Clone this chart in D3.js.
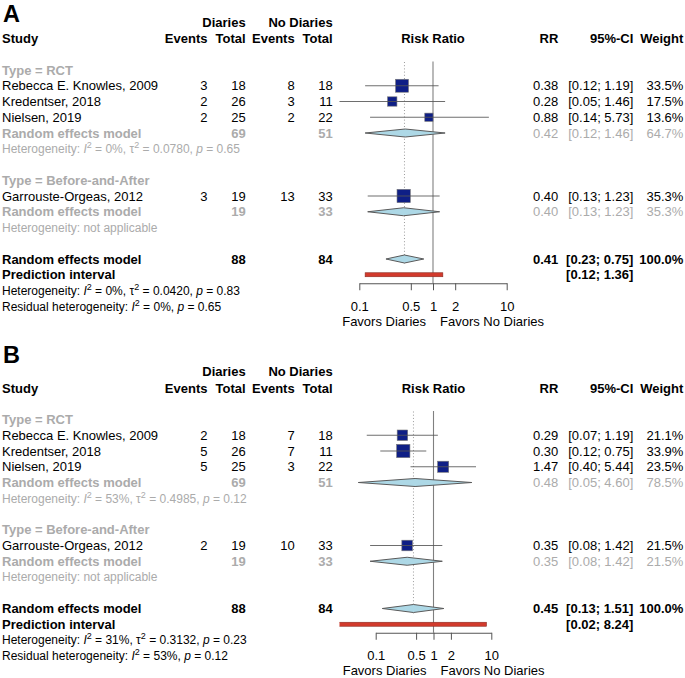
<!DOCTYPE html>
<html><head><meta charset="utf-8">
<script src="https://cdn.jsdelivr.net/npm/d3@7"></script>
<style>body{margin:0;background:#fff} svg{display:block} text{font-family:"Liberation Sans",Arial,Helvetica,sans-serif}</style>
</head><body><svg id="c" width="685" height="678"></svg>
<script>
// ---------- data ----------
const panelLetters = ["A", "B"];
const studyNames = ["Rebecca E. Knowles, 2009", "Kredentser, 2018", "Nielsen, 2019", "Garrouste-Orgeas, 2012"];
const studyGroup = [0, 0, 0, 1];
const groupLabels = ["Type = RCT", "Type = Before-and-After"];
const tickValues = [0.1, 0.5, 1, 2, 10];
const tickLabels = ["0.1", "0.5", "1", "2", "10"];

// Panel A
const eventsDiariesA = [3, 2, 2, 3];
const totalDiariesA = [18, 26, 25, 19];
const eventsNoDiariesA = [8, 3, 2, 13];
const totalNoDiariesA = [18, 11, 22, 33];
const rrA = [0.38, 0.28, 0.88, 0.40];
const lowerA = [0.12, 0.05, 0.14, 0.13];
const upperA = [1.19, 1.46, 5.73, 1.23];
const weightA = [33.5, 17.5, 13.6, 35.3];
const groupTotalDiariesA = [69, 19];
const groupTotalNoDiariesA = [51, 33];
const groupRRA = [0.42, 0.40];
const groupLowerA = [0.12, 0.13];
const groupUpperA = [1.46, 1.23];
const groupWeightA = [64.7, 35.3];
const groupHetA = [["0%", "0.0780", "0.65"], null];
const overallTotalsA = [88, 84];
const overallA = [0.41, 0.23, 0.75];
const predictionA = [0.12, 1.36];
const hetA = ["0%", "0.0420", "0.83"];
const residualHetA = ["0%", "0.65"];

// Panel B
const eventsDiariesB = [2, 5, 5, 2];
const totalDiariesB = [18, 26, 25, 19];
const eventsNoDiariesB = [7, 7, 3, 10];
const totalNoDiariesB = [18, 11, 22, 33];
const rrB = [0.29, 0.30, 1.47, 0.35];
const lowerB = [0.07, 0.12, 0.40, 0.08];
const upperB = [1.19, 0.75, 5.44, 1.42];
const weightB = [21.1, 33.9, 23.5, 21.5];
const groupTotalDiariesB = [69, 19];
const groupTotalNoDiariesB = [51, 33];
const groupRRB = [0.48, 0.35];
const groupLowerB = [0.05, 0.08];
const groupUpperB = [4.60, 1.42];
const groupWeightB = [78.5, 21.5];
const groupHetB = [["53%", "0.4985", "0.12"], null];
const overallTotalsB = [88, 84];
const overallB = [0.45, 0.13, 1.51];
const predictionB = [0.02, 8.24];
const hetB = ["31%", "0.3132", "0.23"];
const residualHetB = ["53%", "0.12"];

const panelData = [
  {ed: eventsDiariesA, td: totalDiariesA, en: eventsNoDiariesA, tn: totalNoDiariesA, rr: rrA, lo: lowerA, hi: upperA, w: weightA,
   gtd: groupTotalDiariesA, gtn: groupTotalNoDiariesA, grr: groupRRA, glo: groupLowerA, ghi: groupUpperA, gw: groupWeightA, ghet: groupHetA,
   ot: overallTotalsA, ov: overallA, pred: predictionA, het: hetA, res: residualHetA},
  {ed: eventsDiariesB, td: totalDiariesB, en: eventsNoDiariesB, tn: totalNoDiariesB, rr: rrB, lo: lowerB, hi: upperB, w: weightB,
   gtd: groupTotalDiariesB, gtn: groupTotalNoDiariesB, grr: groupRRB, glo: groupLowerB, ghi: groupUpperB, gw: groupWeightB, ghet: groupHetB,
   ot: overallTotalsB, ov: overallB, pred: predictionB, het: hetB, res: residualHetB}
];

// ---------- layout ----------
const W = 685, H = 678;
const panelTop = [0, 349.5];
const letterY = [21.5, 363];
const axisRange = [[359.3, 506.7], [375.7, 491.3]];
const clipX = [339.5, 560];
const FS = 13, FSH = 12;
const GRAY = "#ababab";
const col = {study: 2, ed: 207.5, td: 245.7, en: 294.7, tn: 332.7, rr: 558.3, ci: 633.3, w: 683.3};
const rowY = i => 70 + 15.75 * i;
const groupStartRow = [0, 7];

const svg = d3.select("#c");
svg.append("rect").attr("width", W).attr("height", H).attr("fill", "#fff");

function txt(g, x, y, s, o = {}) {
  return g.append("text").attr("x", x).attr("y", y).attr("dy", "0.36em")
    .attr("text-anchor", o.anchor || "start")
    .attr("font-weight", o.bold ? "bold" : "normal")
    .attr("font-size", o.size || FS)
    .attr("fill", o.fill || "#000").text(s);
}
function hetText(g, x, y, parts, fill) {
  const t = g.append("text").attr("x", x).attr("y", y).attr("dy", "0.36em")
    .attr("font-size", FSH).attr("fill", fill);
  let up = false;
  parts.forEach(p => {
    const [s, st] = p;
    const ts = t.append("tspan").text(s);
    if (st === "i") ts.attr("font-style", "italic");
    if (st === "s") { ts.attr("font-size", 9).attr("dy", -5); up = true; }
    else if (up) { ts.attr("dy", 5); up = false; }
  });
}
function hetParts(I2, tau2, p) {
  return [["Heterogeneity: "], ["I", "i"], ["2", "s"], [" = " + I2 + ", τ"], ["2", "s"], [" = " + tau2 + ", "], ["p", "i"], [" = " + p]];
}
const f2 = v => v.toFixed(2);
const ciStr = (l, h) => "[" + f2(l) + "; " + f2(h) + "]";
const wStr = v => v.toFixed(1) + "%";

svg.append("defs").append("clipPath").attr("id", "plotclip")
  .append("rect").attr("x", clipX[0]).attr("y", 0).attr("width", clipX[1] - clipX[0]).attr("height", H);

panelLetters.forEach((L, pi) => {
  const D = panelData[pi];
  const g = svg.append("g").attr("transform", `translate(0,${panelTop[pi]})`);
  svg.append("text").attr("x", 3).attr("y", letterY[pi]).attr("font-size", 23.5).attr("font-weight", "bold").text(L);

  const x = d3.scaleLog().domain([0.1, 10]).range(axisRange[pi]);
  const maxW = d3.max(D.w);
  const sq = d3.scaleSqrt().domain([0, maxW]).range([0, 13.3]);

  // headers
  txt(g, col.td, 22, "Diaries", {anchor: "end", bold: true});
  txt(g, col.tn, 22, "No Diaries", {anchor: "end", bold: true});
  txt(g, col.study, 38.5, "Study", {bold: true});
  txt(g, col.ed, 38.5, "Events", {anchor: "end", bold: true});
  txt(g, col.td, 38.5, "Total", {anchor: "end", bold: true});
  txt(g, col.en, 38.5, "Events", {anchor: "end", bold: true});
  txt(g, col.tn, 38.5, "Total", {anchor: "end", bold: true});
  txt(g, x(1), 38.5, "Risk Ratio", {anchor: "middle", bold: true});
  txt(g, col.rr, 38.5, "RR", {anchor: "end", bold: true});
  txt(g, col.ci, 38.5, "95%-CI", {anchor: "end", bold: true});
  txt(g, col.w, 38.5, "Weight", {anchor: "end", bold: true});

  const plot = g.append("g").attr("clip-path", "url(#plotclip)");
  const overallRow = 12, predRow = 13;
  const axisY = rowY(predRow) + 8.5;

  // reference lines
  plot.append("line").attr("x1", x(1)).attr("x2", x(1)).attr("y1", 61.5).attr("y2", axisY)
    .attr("stroke", "#808080").attr("stroke-width", 1.1);
  plot.append("line").attr("x1", x(D.ov[0])).attr("x2", x(D.ov[0])).attr("y1", 62).attr("y2", rowY(overallRow) + 5)
    .attr("stroke", "#9a9a9a").attr("stroke-width", 1).attr("stroke-dasharray", "1,2.2");

  const diamond = (cy, r, l, h) => {
    plot.append("path")
      .attr("d", `M${x(l)},${cy} L${x(r)},${cy - 4} L${x(h)},${cy} L${x(r)},${cy + 4} Z`)
      .attr("fill", "#add8e6").attr("stroke", "#5a5a5a").attr("stroke-width", 1);
  };

  // groups
  groupLabels.forEach((gl, gi) => {
    const r0 = groupStartRow[gi];
    txt(g, col.study, rowY(r0), gl, {bold: true, fill: GRAY});
    const idx = studyNames.map((s, i) => i).filter(i => studyGroup[i] === gi);
    idx.forEach((si, k) => {
      const y = rowY(r0 + 1 + k);
      txt(g, col.study, y, studyNames[si]);
      txt(g, col.ed, y, D.ed[si], {anchor: "end"});
      txt(g, col.td, y, D.td[si], {anchor: "end"});
      txt(g, col.en, y, D.en[si], {anchor: "end"});
      txt(g, col.tn, y, D.tn[si], {anchor: "end"});
      txt(g, col.rr, y, f2(D.rr[si]), {anchor: "end"});
      txt(g, col.ci, y, ciStr(D.lo[si], D.hi[si]), {anchor: "end"});
      txt(g, col.w, y, wStr(D.w[si]), {anchor: "end"});
      const s = sq(D.w[si]);
      plot.append("rect").attr("x", x(D.rr[si]) - s / 2).attr("y", y - s / 2).attr("width", s).attr("height", s)
        .attr("fill", "#0f1f86").attr("stroke", "#777").attr("stroke-width", 0.6);
      plot.append("line").attr("x1", x(D.lo[si])).attr("x2", x(D.hi[si])).attr("y1", y).attr("y2", y)
        .attr("stroke", "#555").attr("stroke-opacity", 0.85).attr("stroke-width", 1.1);
    });
    const ry = rowY(r0 + 1 + idx.length);
    txt(g, col.study, ry, "Random effects model", {bold: true, fill: GRAY});
    txt(g, col.td, ry, D.gtd[gi], {anchor: "end", bold: true, fill: GRAY});
    txt(g, col.tn, ry, D.gtn[gi], {anchor: "end", bold: true, fill: GRAY});
    txt(g, col.rr, ry, f2(D.grr[gi]), {anchor: "end", fill: GRAY});
    txt(g, col.ci, ry, ciStr(D.glo[gi], D.ghi[gi]), {anchor: "end", fill: GRAY});
    txt(g, col.w, ry, wStr(D.gw[gi]), {anchor: "end", fill: GRAY});
    diamond(ry, D.grr[gi], D.glo[gi], D.ghi[gi]);
    const hy = rowY(r0 + 2 + idx.length);
    if (D.ghet[gi]) hetText(g, col.study, hy, hetParts(...D.ghet[gi]), GRAY);
    else hetText(g, col.study, hy, [["Heterogeneity: not applicable"]], GRAY);
  });

  // overall
  const oy = rowY(overallRow);
  txt(g, col.study, oy, "Random effects model", {bold: true});
  txt(g, col.td, oy, D.ot[0], {anchor: "end", bold: true});
  txt(g, col.tn, oy, D.ot[1], {anchor: "end", bold: true});
  txt(g, col.rr, oy, f2(D.ov[0]), {anchor: "end", bold: true});
  txt(g, col.ci, oy, ciStr(D.ov[1], D.ov[2]), {anchor: "end", bold: true});
  txt(g, col.w, oy, "100.0%", {anchor: "end", bold: true});
  diamond(oy, D.ov[0], D.ov[1], D.ov[2]);

  const py = rowY(predRow);
  txt(g, col.study, py, "Prediction interval", {bold: true});
  txt(g, col.ci, py, ciStr(D.pred[0], D.pred[1]), {anchor: "end", bold: true});
  plot.append("rect").attr("x", x(D.pred[0])).attr("y", py - 2).attr("width", x(D.pred[1]) - x(D.pred[0])).attr("height", 4)
    .attr("fill", "#d23a2c").attr("stroke", "#8a2a22").attr("stroke-width", 0.6);

  hetText(g, col.study, rowY(14), hetParts(...D.het), "#000");
  hetText(g, col.study, rowY(15), [["Residual heterogeneity: "], ["I", "i"], ["2", "s"], [" = " + D.res[0] + ", "], ["p", "i"], [" = " + D.res[1]]], "#000");

  // axis
  const ax = d3.axisBottom(x).tickValues(tickValues).tickFormat((d, i) => tickLabels[i])
    .tickSize(7).tickSizeOuter(0).tickPadding(11.5);
  const axg = g.append("g").attr("transform", `translate(0,${axisY})`).call(ax);
  axg.select(".domain").attr("stroke", "#555");
  axg.selectAll(".tick line").attr("stroke", "#555");
  axg.selectAll(".tick text").attr("font-size", FS).attr("fill", "#000")
    .attr("font-family", '"Liberation Sans",Arial,sans-serif');
  txt(g, x(1) - 7, 321, "Favors Diaries", {anchor: "end"});
  txt(g, x(1) + 7, 321, "Favors No Diaries", {anchor: "start"});
});
</script>
</body></html>
